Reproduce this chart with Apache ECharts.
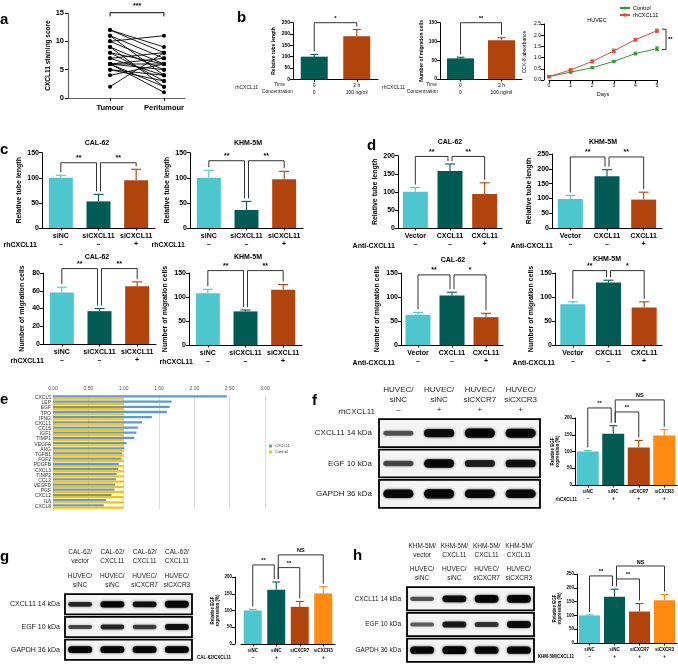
<!DOCTYPE html>
<html><head><meta charset="utf-8">
<script src="https://cdn.jsdelivr.net/npm/echarts@6/dist/echarts.min.js"></script>
<style>html,body{margin:0;padding:0;background:#fff}#c{width:678px;height:665px}</style>
</head><body><div id="c"></div>
<script>
const FONT = 'Liberation Sans, Arial, Helvetica, sans-serif';
// ---------------- DATA ----------------
// a
const aTumour = [12,12,11,11,10,10,9,9,8,8,7,7,6,6,6,6,6,5,5,4,2];
const aPeri   = [9,8,7,4,11,6,5,2,6,3,8,4,7,5,2,1,6,4,3,6,8];
const aCats = ['Tumour','Peritumour'];
// b
const bTime = ['0','2 h'];
const bConc = ['0','100 ng/ml'];
const bTubeVals = [100,190], bTubeErrs = [10,30];
const bMigVals = [55,103], bMigErrs = [3,7];
const bDays = [0,1,2,3,4,5];
const bControl = [0.15,0.35,0.55,0.83,1.18,1.40], bControlErr = [0.02,0.03,0.04,0.04,0.06,0.08];
const bRh = [0.15,0.45,0.83,1.30,1.80,2.20], bRhErr = [0.02,0.04,0.06,0.08,0.06,0.07];
// c
const cCats = ['siNC','siCXCL11','siCXCL11'], cSigns = ['–','–','+'];
const cCalTube = [100,53,95], cCalTubeErr = [5,14,22];
const cKhmTube = [100,36,97], cKhmTubeErr = [15,17,16];
const cCalMig = [58,37,65], cCalMigErr = [6,3,5];
const cKhmMig = [108,70,115], cKhmMigErr = [8,3,11];
// d
const dCats = ['Vector','CXCL11','CXCL11'], dSigns = ['–','–','+'];
const dCalTube = [100,158,94], dCalTubeErr = [12,19,31];
const dKhmTube = [98,175,96], dKhmTubeErr = [12,22,25];
const dCalMig = [63,103,58], dCalMigErr = [5,7,8];
const dKhmMig = [85,130,78], dKhmMigErr = [5,5,12];
// e
const eGenes = ['CXCL5','LEP','EGF','TPO','IFNG','CXCL1','CCL5','IGF1','TIMP1','VEGFA','ANG','TGFB1','FGF2','PDGFB','CXCL3','TIMP2','CCL2','VEGFD','PGF','CXCL2','IL6','CXCL8'];
const eCxcl11 = [2.46,1.68,1.65,1.61,1.40,1.26,1.20,1.18,1.15,1.04,1.01,0.98,0.97,0.93,0.92,0.90,0.89,0.88,0.87,0.83,0.75,0.72];
const eControl = [1.00,1.00,1.00,1.00,1.00,1.00,1.00,1.00,1.00,1.00,1.00,1.00,1.00,1.00,1.00,1.00,1.00,1.00,1.00,1.00,1.00,1.00];
const eTicks = ['0.00','0.50','1.00','1.50','2.00','2.50','3.00'];
// f, g, h
const blotRows = ['CXCL11 14 kDa','EGF 10 kDa','GAPDH 36 kDa'];
const huvecLanes = ['HUVEC/\nsiNC','HUVEC/\nsiNC','HUVEC/\nsiCXCR7','HUVEC/\nsiCXCR3'];
const fLaneSigns = ['–','+','+','+'];
const gDonor = ['CAL-62/\nvector','CAL-62/\nCXCL11','CAL-62/\nCXCL11','CAL-62/\nCXCL11'];
const hDonor = ['KHM-5M/\nvector','KHM-5M/\nCXCL11','KHM-5M/\nCXCL11','KHM-5M/\nCXCL11'];
const fBands = [[0.40,0.80,0.95,0.90],[0.45,0.85,0.65,0.75],[0.85,0.95,0.85,0.85]];
const gBands = [[0.60,0.85,0.75,0.95],[0.45,0.60,0.50,0.75],[0.90,0.90,0.90,0.90]];
const hBands = [[0.40,0.80,0.95,0.95],[0.35,0.70,0.55,0.80],[0.85,0.95,0.85,0.85]];
const egfCats = ['siNC','siNC','siCXCR7','siCXCR3'];
const fSigns = ['–','+','+','+'], fVals = [100,153,112,148], fErrs = [3,24,21,17];
const gSigns = ['–','+','–','+'], gVals = [100,162,111,151], gErrs = [3,23,16,20];
const hSigns = ['–','+','+','+'], hVals = [100,168,114,155], hErrs = [2,27,29,21];
// brackets [from, to, level], labels
const cCalTubeBr = [[0,1,130],[1,2,130]], cKhmTubeBr = [[0,1,134],[1,2,134]];
const cCalMigBr = [[0,1,85],[1,2,85]], cKhmMigBr = [[0,1,155],[1,2,155]];
const dCalTubeBr = [[0,1,198],[1,2,198]], dKhmTubeBr = [[0,1,240],[1,2,240]];
const dCalMigBr = [[0,1,146],[1,2,146]], dKhmMigBr = [[0,1,155],[1,2,155]];
const egfBrLabels = ['**','**','NS'];
const fBr = [[0,1,230],[1,2,218],[1,3,254]];
const gBr = [[0,1,236],[1,2,228],[1,3,266]];
const hBr = [[0,1,243],[1,2,232],[1,3,279]];

// ---------------- BUILD ----------------
const CYAN='#4ec6ce', TEAL='#035b56', RUST='#b0440c', ORANGE='#ff8a12';
const grids=[], xAxes=[], yAxes=[], series=[], graphics=[], legends=[];
function txt(x,y,s,o){o=o||{};graphics.push({type:'text',x:x,y:y,silent:true,rotation:o.rot||0,style:{text:s,fill:o.color||'#000',fontSize:o.size||7,fontWeight:o.bold?'bold':'normal',fontFamily:FONT,align:o.align||'left',verticalAlign:o.va||'middle',lineHeight:o.lh}});}
function addGrid(g){grids.push(g);return grids.length-1;}
function errRender(colors,cap){return function(params,api){const i=api.value(0),v=api.value(1),e=api.value(2);const p0=api.coord([i,v]),p1=api.coord([i,v+e]);const c=Array.isArray(colors)?colors[params.dataIndex]:colors;
 return {type:'group',children:[{type:'line',shape:{x1:p0[0],y1:p0[1],x2:p1[0],y2:p1[1]},style:{stroke:c,lineWidth:1.1}},{type:'line',shape:{x1:p1[0]-cap,y1:p1[1],x2:p1[0]+cap,y2:p1[1]},style:{stroke:c,lineWidth:1.1}}]};};}
function bracketRender(vals,errs,brs,labels,fs){return function(params,api){const b=brs[params.dataIndex];const i1=b[0],i2=b[1];
 const shared=i=>brs.filter(q=>q[0]===i||q[1]===i).length>1;
 let x1=api.coord([i1,0])[0],x2=api.coord([i2,0])[0];if(shared(i1))x1+=2;if(shared(i2))x2-=2;
 const top=api.coord([i1,b[2]])[1];const d1=api.coord([i1,vals[i1]+errs[i1]])[1]-3,d2=api.coord([i2,vals[i2]+errs[i2]])[1]-3;
 return {type:'group',children:[{type:'polyline',shape:{points:[[x1,d1],[x1,top],[x2,top],[x2,d2]]},style:{stroke:'#333',lineWidth:1,fill:null}},
 {type:'text',x:(x1+x2)/2,y:top-1,style:{text:labels[params.dataIndex],fontSize:fs,fontWeight:'bold',fontFamily:FONT,fill:'#000',align:'center',verticalAlign:'bottom'}}]};};}
function axisStyle(fs){return {axisLine:{show:true,onZero:false,lineStyle:{color:'#000',width:1}},axisTick:{show:true,length:3,lineStyle:{color:'#000'}},splitLine:{show:false}};}
function barPanel(p){
 const gi=addGrid({left:p.left,top:p.top,width:p.width,height:p.height});
 const xi=xAxes.length, yi=yAxes.length;
 xAxes.push(Object.assign(axisStyle(),{type:'category',gridIndex:gi,data:p.cats,axisTick:{show:true,alignWithLabel:true,length:2.5,lineStyle:{color:'#000'}},
  axisLabel:{interval:0,fontSize:p.fs,fontWeight:p.catBold===false?'normal':'bold',color:'#000',fontFamily:FONT,margin:p.margin||4,lineHeight:p.lh||p.fs+1,
  formatter:function(v,i){return p.signs?v+'\n'+p.signs[i]:v;}}}));
 yAxes.push(Object.assign(axisStyle(),{type:'value',gridIndex:gi,min:0,max:p.yMax,interval:p.yStep,offset:p.yOffset||0,
  axisLabel:{fontSize:p.fs,fontWeight:'bold',color:'#000',fontFamily:FONT,margin:3},
  name:p.yName,nameLocation:'middle',nameGap:p.nameGap,nameTextStyle:{fontSize:p.nfs||p.fs,fontWeight:'bold',color:'#000',fontFamily:FONT,lineHeight:(p.nfs||p.fs)+1}}));
 series.push({type:'bar',xAxisIndex:xi,yAxisIndex:yi,barWidth:p.barWidth,silent:true,data:p.vals.map((v,i)=>({value:v,itemStyle:{color:p.colors[i]}}))});
 series.push({type:'custom',xAxisIndex:xi,yAxisIndex:yi,silent:true,clip:false,z:3,data:p.vals.map((v,i)=>[i,v,p.errs[i]]),renderItem:errRender(p.colors,p.cap||4)});
 if(p.br){series.push({type:'custom',xAxisIndex:xi,yAxisIndex:yi,silent:true,clip:false,z:4,data:p.br.map(b=>[b[0],b[2]]),renderItem:bracketRender(p.vals,p.errs,p.br,p.brLabels,p.bfs||p.fs)});}
}
// panel letters
[['a',0,12],['b',237,10],['c',0,142],['d',367,138],['e',0,392],['f',312,393],['g',0,549],['h',353,548]].forEach(l=>txt(l[1],l[2],l[0],{bold:true,size:15,va:'alphabetic'}));

// ---- a ----
{const gi=addGrid({left:68,top:13,width:117,height:85});const xi=xAxes.length,yi=yAxes.length;
 xAxes.push(Object.assign(axisStyle(),{type:'value',gridIndex:gi,min:0.22,max:2.39,axisLine:{show:true,lineStyle:{color:'#666',width:1.2}},
  axisTick:{show:true,customValues:[1,2],length:3,lineStyle:{color:'#000'}},axisLabel:{customValues:[1,2],formatter:v=>aCats[Math.round(v)-1],fontSize:7.5,fontWeight:'bold',color:'#000',fontFamily:FONT,margin:6}}));
 yAxes.push(Object.assign(axisStyle(),{type:'value',gridIndex:gi,min:0,max:15,interval:5,axisLine:{show:true,lineStyle:{color:'#666',width:1.2}},axisLabel:{fontSize:7.5,fontWeight:'bold',color:'#000',fontFamily:FONT,margin:4},
  name:'CXCL11 staining score',nameLocation:'middle',nameGap:15,nameTextStyle:{fontSize:6.5,fontWeight:'bold',color:'#000',fontFamily:FONT}}));
 aTumour.forEach((t,i)=>series.push({type:'line',xAxisIndex:xi,yAxisIndex:yi,silent:true,data:[[1,t],[2,aPeri[i]]],symbol:'circle',symbolSize:4,itemStyle:{color:'#000'},lineStyle:{color:'#000',width:0.9}}));
 series.push({type:'custom',xAxisIndex:xi,yAxisIndex:yi,silent:true,clip:false,data:[[1,15]],renderItem:function(params,api){const p1=api.coord([1,15.05]),p2=api.coord([2,15.05]);const d=api.coord([1,14.4])[1];
  return {type:'group',children:[{type:'polyline',shape:{points:[[p1[0],d],[p1[0],p1[1]],[p2[0],p1[1]],[p2[0],d]]},style:{stroke:'#000',lineWidth:1,fill:null}},{type:'text',x:(p1[0]+p2[0])/2,y:p1[1]-3,style:{text:'***',fontSize:7,fontWeight:'bold',fontFamily:FONT,align:'center',verticalAlign:'bottom',fill:'#000'}}]};}});
}
// ---- b ----
barPanel({left:293,top:22.7,width:85,height:56.6,cats:bTime,signs:bConc,vals:bTubeVals,errs:bTubeErrs,colors:[TEAL,RUST],yMax:250,yStep:50,yName:'Relative tube length',nameGap:16,fs:5,lh:7,margin:3,barWidth:27,br:[[0,1,250]],brLabels:['*'],bfs:6,catBold:false});
barPanel({left:440,top:22.7,width:82,height:56.3,cats:bTime,signs:bConc,vals:bMigVals,errs:bMigErrs,colors:[TEAL,RUST],yMax:150,yStep:50,yName:'Number of migration cells',nameGap:14,fs:5,lh:7,margin:3,barWidth:27,br:[[0,1,150]],brLabels:['**'],bfs:6,catBold:false});
txt(258,88,'rhCXCL11',{size:5,align:'right',color:'#222'});txt(285,85,'Time',{size:5,align:'right',color:'#222'});txt(293,92,'Concentration',{size:5,align:'right',color:'#222'});
txt(405,88,'rhCXCL11',{size:5,align:'right',color:'#222'});txt(437,85,'Time',{size:5,align:'right',color:'#222'});txt(438,92,'Concentration',{size:5,align:'right',color:'#222'});
{const gi=addGrid({left:549,top:24,width:108,height:56});const xi=xAxes.length,yi=yAxes.length;
 xAxes.push(Object.assign(axisStyle(),{type:'value',gridIndex:gi,min:0,max:5,interval:1,axisLabel:{fontSize:5,color:'#000',fontFamily:FONT,margin:3},name:'Days',nameLocation:'middle',nameGap:11,nameTextStyle:{fontSize:5.5,color:'#000',fontFamily:FONT}}));
 yAxes.push(Object.assign(axisStyle(),{type:'value',gridIndex:gi,min:0,max:2.5,interval:0.5,offset:5,axisLabel:{fontSize:5,color:'#000',fontFamily:FONT,margin:3,formatter:v=>v.toFixed(1)},name:'CCK-8 absorbance',nameLocation:'middle',nameGap:17,nameTextStyle:{fontSize:5,color:'#000',fontFamily:FONT}}));
 const GREEN='#2f9a35', RED='#e2493f';
 series.push({type:'line',name:'Control',xAxisIndex:xi,yAxisIndex:yi,silent:true,data:bDays.map((d,i)=>[d,bControl[i]]),symbol:'circle',symbolSize:3.5,itemStyle:{color:GREEN},lineStyle:{color:GREEN,width:1}});
 series.push({type:'line',name:'rhCXCL11',xAxisIndex:xi,yAxisIndex:yi,silent:true,data:bDays.map((d,i)=>[d,bRh[i]]),symbol:'rect',symbolSize:3.5,itemStyle:{color:RED},lineStyle:{color:RED,width:1}});
 const eb=(vals,errs,c)=>({type:'custom',xAxisIndex:xi,yAxisIndex:yi,silent:true,clip:false,data:bDays.map((d,i)=>[d,vals[i],errs[i]]),renderItem:function(params,api){const x=api.value(0),v=api.value(1),e=api.value(2);const a=api.coord([x,v+e]),b=api.coord([x,v-e]);
  return {type:'group',children:[{type:'line',shape:{x1:a[0],y1:a[1],x2:b[0],y2:b[1]},style:{stroke:c,lineWidth:0.9}},{type:'line',shape:{x1:a[0]-2,y1:a[1],x2:a[0]+2,y2:a[1]},style:{stroke:c,lineWidth:0.9}},{type:'line',shape:{x1:b[0]-2,y1:b[1],x2:b[0]+2,y2:b[1]},style:{stroke:c,lineWidth:0.9}}]};}});
 series.push(eb(bControl,bControlErr,GREEN));series.push(eb(bRh,bRhErr,RED));
 series.push({type:'custom',xAxisIndex:xi,yAxisIndex:yi,silent:true,clip:false,data:[[5,2.27,1.36]],renderItem:function(params,api){const p1=api.coord([5,api.value(1)]),p2=api.coord([5,api.value(2)]);const x0=p1[0]+5,x1=x0+4;
  return {type:'group',children:[{type:'polyline',shape:{points:[[x0,p1[1]],[x1,p1[1]],[x1,p2[1]],[x0,p2[1]]]},style:{stroke:'#333',lineWidth:1,fill:null}},{type:'text',x:x1+2,y:(p1[1]+p2[1])/2,style:{text:'**',fontSize:6,fontWeight:'bold',fontFamily:FONT,fill:'#000',verticalAlign:'middle'}}]};}});
 legends.push({data:['Control','rhCXCL11'],left:619,top:5,orient:'vertical',itemWidth:10,itemHeight:4,itemGap:1,textStyle:{fontSize:5.5,fontFamily:FONT,color:'#000',padding:[0,0,0,-2]},padding:0,selectedMode:false});
 txt(597,20,'HUVEC',{size:5.5,align:'center'});
}
// ---- c ----
const C3=[CYAN,TEAL,RUST];
const cBase={fs:7,lh:8,margin:4,barWidth:24,cap:5,colors:C3,cats:cCats,signs:cSigns,brLabels:['**','**']};
barPanel(Object.assign({},cBase,{left:42,top:152.7,width:113,height:75.3,vals:cCalTube,errs:cCalTubeErr,yMax:150,yStep:50,yName:'Relative tube length',nameGap:19,br:cCalTubeBr}));
barPanel(Object.assign({},cBase,{left:190,top:152.7,width:113,height:75.3,vals:cKhmTube,errs:cKhmTubeErr,yMax:150,yStep:50,yName:'Relative tube length',nameGap:19,br:cKhmTubeBr}));
barPanel(Object.assign({},cBase,{left:43,top:273,width:113,height:71,vals:cCalMig,errs:cCalMigErr,yMax:80,yStep:20,yName:'Number of migration cells',nameGap:17,br:cCalMigBr}));
barPanel(Object.assign({},cBase,{left:189,top:273,width:113,height:72,vals:cKhmMig,errs:cKhmMigErr,yMax:150,yStep:50,yName:'Number of migration cells',nameGap:20,br:cKhmMigBr}));
txt(97,143,'CAL-62',{bold:true,size:7,align:'center'});txt(248,143,'KHM-5M',{bold:true,size:7,align:'center'});
txt(97,257,'CAL-62',{bold:true,size:7,align:'center'});txt(248,257,'KHM-5M',{bold:true,size:7,align:'center'});
txt(37,245,'rhCXCL11',{bold:true,size:7,align:'right'});txt(185,245,'rhCXCL11',{bold:true,size:7,align:'right'});
txt(44,361,'rhCXCL11',{bold:true,size:7,align:'right'});txt(193,362,'rhCXCL11',{bold:true,size:7,align:'right'});
// ---- d ----
const dBase={fs:7,lh:8,margin:4,barWidth:25,cap:5,colors:C3,cats:dCats,signs:dSigns,brLabels:['**','**']};
barPanel(Object.assign({},dBase,{left:398,top:155.7,width:104,height:72.3,vals:dCalTube,errs:dCalTubeErr,yMax:200,yStep:50,yName:'Relative tube length',nameGap:19,br:dCalTubeBr}));
barPanel(Object.assign({},dBase,{left:552,top:154,width:110,height:74,vals:dKhmTube,errs:dKhmTubeErr,yMax:250,yStep:50,yName:'Relative tube length',nameGap:19,br:dKhmTubeBr}));
barPanel(Object.assign({},dBase,{left:401,top:273,width:102,height:72,vals:dCalMig,errs:dCalMigErr,yMax:150,yStep:50,yName:'Number of migration cells',nameGap:20,br:dCalMigBr,brLabels:['**','*']}));
barPanel(Object.assign({},dBase,{left:555,top:273,width:107,height:72,vals:dKhmMig,errs:dKhmMigErr,yMax:150,yStep:50,yName:'Number of migration cells',nameGap:20,br:dKhmMigBr,brLabels:['**','*']}));
txt(450,142,'CAL-62',{bold:true,size:7,align:'center'});txt(603,142,'KHM-5M',{bold:true,size:7,align:'center'});
txt(453,260,'CAL-62',{bold:true,size:7,align:'center'});txt(607,259,'KHM-5M',{bold:true,size:7,align:'center'});
txt(395,246,'Anti-CXCL11',{bold:true,size:7,align:'right'});txt(553,246,'Anti-CXCL11',{bold:true,size:7,align:'right'});
txt(395,363,'Anti-CXCL11',{bold:true,size:7,align:'right'});txt(555,363,'Anti-CXCL11',{bold:true,size:7,align:'right'});
// ---- e ----
{const gi=addGrid({left:53,top:395,width:212,height:114});const xi=xAxes.length,yi=yAxes.length;
 xAxes.push({type:'value',gridIndex:gi,position:'top',min:0,max:3,interval:0.5,axisLine:{show:false},axisTick:{show:false},splitLine:{show:true,lineStyle:{color:'#d6d6d6',width:0.8}},
  axisLabel:{fontSize:5,color:'#555',fontFamily:FONT,margin:4,formatter:v=>eTicks[Math.round(v*2)]}});
 yAxes.push({type:'category',gridIndex:gi,data:eGenes,inverse:true,axisLine:{show:true,lineStyle:{color:'#ccc',width:0.8}},axisTick:{show:false},axisLabel:{fontSize:5,color:'#333',fontFamily:FONT,margin:2,interval:0}});
 series.push({type:'bar',name:'CXCL11',xAxisIndex:xi,yAxisIndex:yi,silent:true,data:eCxcl11,itemStyle:{color:'#5b9bd5'},barGap:'0%',barCategoryGap:'12%'});
 series.push({type:'bar',name:'Control ',xAxisIndex:xi,yAxisIndex:yi,silent:true,data:eControl,itemStyle:{color:'#ffc000'},barGap:'0%',barCategoryGap:'12%'});
 legends.push({data:['CXCL11','Control '],left:269,top:444,orient:'vertical',itemWidth:3,itemHeight:3,itemGap:2,icon:'rect',padding:0,selectedMode:false,textStyle:{fontSize:4,color:'#444',fontFamily:FONT,padding:[0,0,0,-2]}});
}
// ---- blots ----
function blotRender(params,api){const lane=api.value(0),row=api.value(1),inten=api.value(2);const c=api.coord([lane,row]);const sz=api.size([1,1]);const bw=sz[0],bh=sz[1];
 const ch=[];if(lane===0){ch.push({type:'rect',shape:{x:c[0]-bw/2+1,y:c[1]-bh/2+1.2,width:bw*4-2,height:bh-2.4},style:{fill:'#f4f4f4',stroke:'#000',lineWidth:1.8}});}
 const h=bh*(0.06+0.26*inten);const a=Math.min(1,0.25+inten*0.85);
 ch.push({type:'rect',shape:{x:c[0]-bw*0.37,y:c[1]-h/2,width:bw*0.74,height:h,r:h/2},style:{fill:'rgba(5,5,5,'+a+')',shadowBlur:2.5,shadowColor:'rgba(0,0,0,'+(a*0.8)+')'}});
 return {type:'group',children:ch};}
function blot(p){const gi=addGrid({left:p.left,top:p.top,width:p.width,height:p.height});const xi=xAxes.length,yi=yAxes.length;
 xAxes.push({type:'category',gridIndex:gi,position:'top',data:p.lanes,axisLine:{show:false},axisTick:{show:false},axisLabel:{interval:0,fontSize:p.fs,color:'#222',fontFamily:FONT,lineHeight:p.lh,margin:p.margin,
  formatter:function(v,i){return p.signs?v+'\n'+p.signs[i]:v;}}});
 if(p.donor){xAxes.push({type:'category',gridIndex:gi,position:'top',offset:p.donorOffset,data:p.donor,axisLine:{show:false},axisTick:{show:false},axisLabel:{interval:0,fontSize:p.fs,color:'#222',fontFamily:FONT,lineHeight:p.lh,margin:p.margin}});}
 yAxes.push({type:'category',gridIndex:gi,data:blotRows,inverse:true,axisLine:{show:false},axisTick:{show:false},axisLabel:{fontSize:p.rfs||p.fs,color:'#222',fontFamily:FONT,margin:p.rowMargin}});
 const data=[];p.bands.forEach((r,ri)=>r.forEach((v,li)=>data.push([li,ri,v])));
 series.push({type:'custom',xAxisIndex:xi,yAxisIndex:yi,silent:true,clip:false,data:data,renderItem:blotRender});}
blot({left:378,top:418,width:163,height:91,lanes:huvecLanes,signs:fLaneSigns,bands:fBands,fs:8,lh:10,margin:3,rowMargin:6});
txt(375,412,'rhCXCL11',{size:8,align:'right',color:'#222'});
blot({left:64,top:593,width:129,height:68,lanes:huvecLanes,donor:gDonor,donorOffset:24,bands:gBands,fs:6.5,rfs:7,lh:9,margin:3,rowMargin:4});
blot({left:406,top:586,width:129,height:77,lanes:huvecLanes,donor:hDonor,donorOffset:23,bands:hBands,fs:6.5,lh:9.5,margin:3,rowMargin:5});
// ---- EGF bar charts ----
const C4=[CYAN,TEAL,RUST,ORANGE];
const eBase={fs:4.5,lh:7,margin:3,cap:4,colors:C4,cats:egfCats,brLabels:egfBrLabels,bfs:5.5,nfs:4.5};
barPanel(Object.assign({},eBase,{left:575,top:418,width:102,height:67,signs:fSigns,vals:fVals,errs:fErrs,yMax:200,yStep:50,yName:'Relative EGF\nexpression (%)',nameGap:12,barWidth:22,br:fBr}));
txt(577,500,'rhCXCL11',{bold:true,size:4.5,align:'right'});
barPanel(Object.assign({},eBase,{left:241,top:577,width:94,height:67,yOffset:6,signs:gSigns,vals:gVals,errs:gErrs,yMax:200,yStep:50,yName:'Relative EGF\nexpression (%)',nameGap:12,barWidth:18,br:gBr}));
txt(231,658,'CAL-62/CXCL11',{bold:true,size:4.5,align:'right'});
barPanel(Object.assign({},eBase,{left:577,top:574,width:100,height:69,signs:hSigns,vals:hVals,errs:hErrs,yMax:250,yStep:50,yName:'Relative EGF\nexpression (%)',nameGap:12,barWidth:21,br:hBr}));
txt(574,657,'KHM-5M/CXCL11',{bold:true,size:4.5,align:'right'});

const chart=echarts.init(document.getElementById('c'),null,{renderer:'canvas',width:678,height:665});
chart.setOption({backgroundColor:'#fff',animation:false,grid:grids,xAxis:xAxes,yAxis:yAxes,series:series,legend:legends,graphic:graphics,tooltip:{show:false}});
</script></body></html>
